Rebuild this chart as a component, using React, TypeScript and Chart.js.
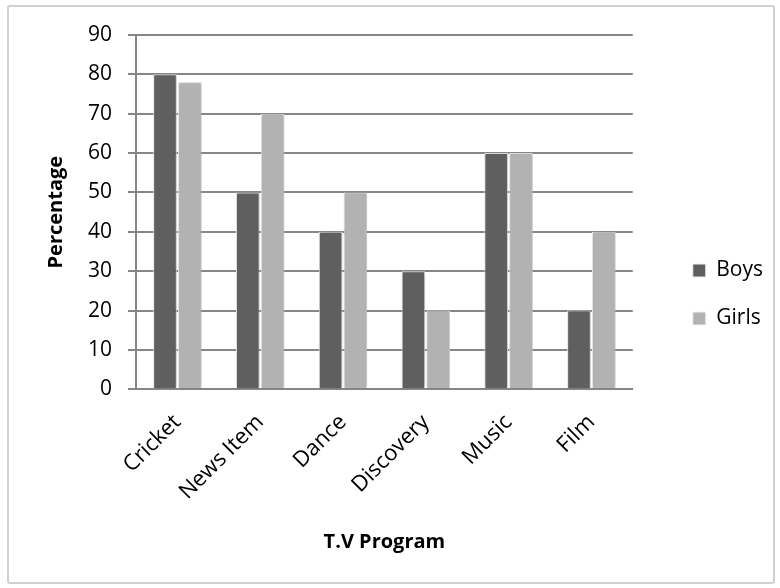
import React, { useEffect, useRef } from "react";
import { Chart, registerables } from "chart.js";

Chart.register(...registerables);

const categories = ["Cricket", "News Item", "Dance", "Discovery", "Music", "Film"];
const boys = [80, 50, 40, 30, 60, 20];
const girls = [78, 70, 50, 20, 60, 40];
const seriesNames = ["Boys", "Girls"];

const FONT = "'Open Sans', sans-serif";

const shadowPlugin = {
  id: "barShadow",
  beforeDatasetsDraw(chart: any) {
    const ctx = chart.ctx;
    ctx.save();
    ctx.shadowColor = "rgba(0,0,0,0.28)";
    ctx.shadowBlur = 4;
    ctx.shadowOffsetX = 1;
    ctx.shadowOffsetY = 0;
  },
  afterDatasetsDraw(chart: any) {
    chart.ctx.restore();
  },
};

export default function App() {
  const ref = useRef<HTMLCanvasElement | null>(null);
  useEffect(() => {
    if (!ref.current) return;
    const chart = new Chart(ref.current, {
      type: "bar",
      data: {
        labels: categories,
        datasets: [
          {
            label: seriesNames[0],
            data: boys,
            backgroundColor: "#5f5f5f",
            borderColor: "#f2f2f2",
            borderWidth: 1,
            categoryPercentage: 0.6,
            barPercentage: 0.95,
          },
          {
            label: seriesNames[1],
            data: girls,
            backgroundColor: "#b2b2b2",
            borderColor: "#f2f2f2",
            borderWidth: 1,
            categoryPercentage: 0.6,
            barPercentage: 0.95,
          },
        ],
      },
      plugins: [shadowPlugin],
      options: {
        animation: false,
        responsive: false,
        maintainAspectRatio: false,
        layout: { padding: { left: 40, right: 7, top: 35, bottom: 34 } },
        plugins: {
          tooltip: { enabled: false },
          legend: {
            position: "right",
            labels: {
              font: { family: FONT, size: 21 },
              color: "#000",
              boxWidth: 13,
              boxHeight: 13,
              padding: 27,
            },
          },
        },
        scales: {
          x: {
            grid: { display: false },
            border: { display: true, color: "#868686", width: 2 },
            ticks: {
              font: { family: FONT, size: 22 },
              color: "#000",
              minRotation: 45,
              maxRotation: 45,
              padding: 12,
            },
            title: {
              display: true,
              text: "T.V Program",
              font: { family: FONT, size: 20, weight: "bold" },
              color: "#000",
              padding: { top: 13, bottom: 0 },
            },
          },
          y: {
            min: 0,
            max: 90,
            ticks: {
              stepSize: 10,
              font: { family: FONT, size: 21 },
              color: "#000",
              padding: 16,
            },
            grid: {
              color: "#868686",
              lineWidth: 2,
              drawTicks: true,
              tickLength: 8,
            },
            border: { display: true, color: "#868686", width: 2 },
            title: {
              display: true,
              text: "Percentage",
              font: { family: FONT, size: 20, weight: "bold" },
              color: "#000",
              padding: { bottom: 4 },
            },
          },
          spacer: {
            type: "linear",
            position: "right",
            display: true,
            grid: { display: false },
            border: { display: false },
            ticks: { display: false },
            afterFit(axis: any) {
              axis.width = 33;
            },
          },
        },
      },
    });
    return () => chart.destroy();
  }, []);

  return (
    <div style={{ position: "absolute", left: 0, top: 0, width: 780, height: 588, background: "#fff" }}>
      <canvas ref={ref} width={780} height={588} style={{ position: "absolute", left: 0, top: 0 }} />
      <div
        style={{
          position: "absolute",
          left: 7,
          top: 5,
          width: 764,
          height: 575,
          border: "2px solid #d0d0d0",
          borderRadius: 3,
          pointerEvents: "none",
        }}
      />
    </div>
  );
}
